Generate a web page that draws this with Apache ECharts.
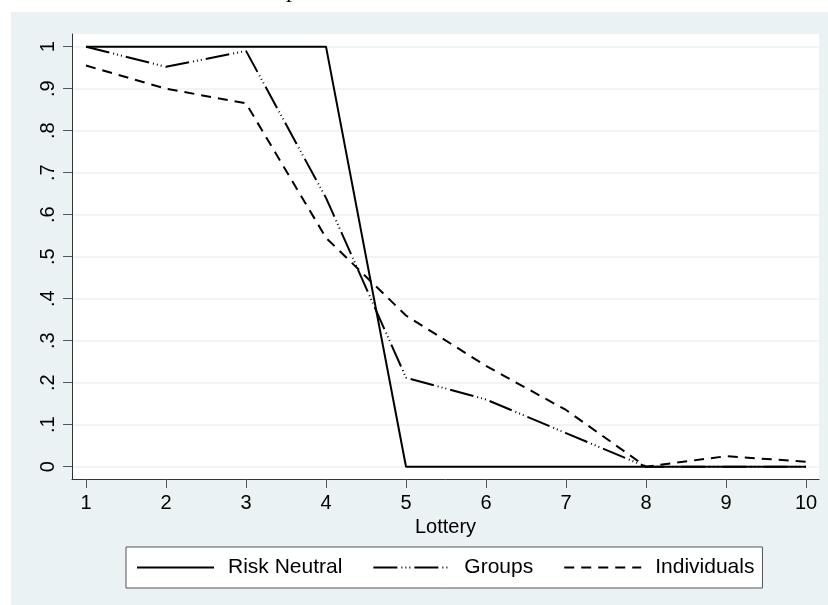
<!DOCTYPE html>
<html>
<head>
<meta charset="utf-8">
<script src="https://cdn.jsdelivr.net/npm/echarts@6/dist/echarts.min.js"></script>
<style>
	html, body { margin: 0; padding: 0; background: #ffffff; }
	#main { width: 828px; height: 605px; }
</style>
</head>
<body>
<div id="main"></div>
<script>
const lotteries = [1, 2, 3, 4, 5, 6, 7, 8, 9, 10];
const riskNeutral = [1, 1, 1, 1, 0, 0, 0, 0, 0, 0];
const groups = [1, 0.952, 0.99, 0.64, 0.212, 0.16, 0.08, 0, 0, 0];
const individuals = [0.955, 0.9, 0.865, 0.545, 0.36, 0.24, 0.135, 0, 0.025, 0.012];
const yTicks = [0, 0.1, 0.2, 0.3, 0.4, 0.5, 0.6, 0.7, 0.8, 0.9, 1];

const font = "Liberation Sans, Arial, Helvetica, sans-serif";
const bg = "#eaf2f3";

// long dash then three dots, like Stata's "longdash_3dot"
const groupsDash = [24, 4, 1, 3, 1, 3, 1, 4];
const indivDash = [10, 7];

function pairs(ys) {
	return lotteries.map((x, i) => [x, ys[i]]);
}

function yLabel(v) {
	if (Math.abs(v) < 1e-9) return "0";
	if (Math.abs(v - 1) < 1e-9) return "1";
	return "." + Math.round(v * 10);
}

const chart = echarts.init(document.getElementById("main"), null, { renderer: "canvas" });

const option = {
	backgroundColor: "#ffffff",
	animation: false,
	title: {
		text: "p",
		left: 281,
		top: -26,
		textStyle: { fontFamily: "Liberation Serif, Times New Roman, serif", fontSize: 24, fontWeight: "normal", color: "#000" },
	},
	graphic: [
		{
			type: "rect",
			left: 11,
			top: 12,
			z: -10,
			shape: { width: 817, height: 593 },
			style: { fill: bg },
			silent: true,
		},
	],
	grid: {
		left: 72,
		top: 34,
		right: 9,
		bottom: 126,
		show: true,
		backgroundColor: "#ffffff",
		borderWidth: 0,
	},
	legend: {
		left: 126,
		top: 547,
		orient: "horizontal",
		padding: [10, 8, 10, 10],
		itemWidth: 77,
		itemHeight: 20,
		itemGap: 30,
		backgroundColor: "#ffffff",
		borderColor: "#555555",
		borderWidth: 1,
		borderRadius: 0,
		selectedMode: false,
		itemStyle: { opacity: 0 },
		textStyle: { fontFamily: font, fontSize: 21, color: "#000", padding: [0, 0, 0, 9] },
		data: [
			{ name: "Risk Neutral", lineStyle: { color: "#000", width: 2, type: "solid" } },
			{ name: "Groups", lineStyle: { color: "#000", width: 2, type: groupsDash } },
			{ name: "Individuals", lineStyle: { color: "#000", width: 2, type: indivDash } },
		],
	},
	xAxis: {
		type: "value",
		min: 0.825,
		max: 10.1625,
		name: "Lottery",
		nameLocation: "middle",
		nameGap: 36,
		nameTextStyle: { fontFamily: font, fontSize: 20, color: "#000" },
		axisLine: { onZero: false, lineStyle: { color: "#333", width: 1 } },
		axisTick: { show: true, length: 9, customValues: lotteries, lineStyle: { color: "#555", width: 1 } },
		axisLabel: { customValues: lotteries, margin: 14, fontFamily: font, fontSize: 20, color: "#000" },
		splitLine: { show: false },
	},
	yAxis: {
		type: "value",
		min: -0.0293,
		max: 1.0302,
		axisLine: { show: true, onZero: false, lineStyle: { color: "#333", width: 1 } },
		axisTick: { show: true, length: 9, customValues: yTicks, lineStyle: { color: "#555", width: 1 } },
		axisLabel: { customValues: yTicks, rotate: 90, margin: 14, fontFamily: font, fontSize: 20, color: "#000", formatter: yLabel },
		splitLine: { show: true, lineStyle: { color: bg, width: 1.5 } },
	},
	series: [
		{
			name: "Risk Neutral",
			type: "line",
			symbol: "none",
			data: pairs(riskNeutral),
			lineStyle: { color: "#000", width: 2, type: "solid" },
			itemStyle: { color: "#000" },
		},
		{
			name: "Groups",
			type: "line",
			symbol: "none",
			data: pairs(groups),
			lineStyle: { color: "#000", width: 2, type: groupsDash },
			itemStyle: { color: "#000" },
		},
		{
			name: "Individuals",
			type: "line",
			symbol: "none",
			data: pairs(individuals),
			lineStyle: { color: "#000", width: 2, type: indivDash },
			itemStyle: { color: "#000" },
		},
	],
};

chart.setOption(option);
</script>
</body>
</html>
